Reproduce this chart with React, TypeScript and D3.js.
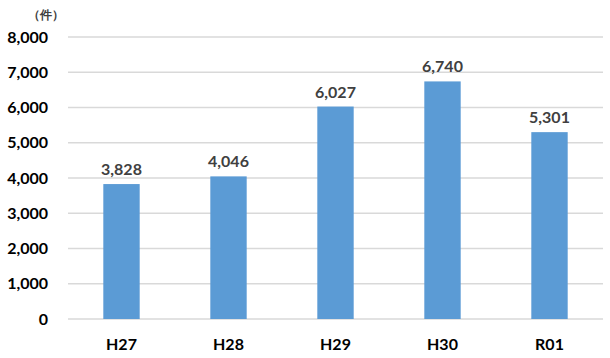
import React from "react";
import * as d3 from "d3";

const categories = ["H27", "H28", "H29", "H30", "R01"];
const values = [3828, 4046, 6027, 6740, 5301];
const yTicks = [0, 1000, 2000, 3000, 4000, 5000, 6000, 7000, 8000];
const unitLabel = "（件）";

export default function App() {
  const W = 610, H = 358;
  const left = 68, right = 603, top = 37, bottom = 319;
  const x = d3.scaleBand<string>().domain(categories).range([left, right]).paddingInner(0.66).paddingOuter(0.33);
  const y = d3.scaleLinear().domain([0, 8000]).range([bottom, top]);
  const fmt = d3.format(",");
  const font = "Lato, 'Open Sans', sans-serif";
  const color = "#404040";
  return (
    <svg width={W} height={H} style={{ position: "absolute", left: 0, top: 0, background: "#fff" }}>
      <text x={46} y={19} textAnchor="middle" fontSize={12} fontWeight="bold" fontFamily={font} fill={color}>{unitLabel}</text>
      {yTicks.map((t) => (
        <g key={t}>
          <line x1={left} x2={right} y1={y(t)} y2={y(t)} stroke="#d9d9d9" strokeWidth={1.3} />
          <text x={48} y={y(t) + 5.5} textAnchor="end" fontSize={16} fontWeight="bold" fontFamily={font} fill="#000">{fmt(t)}</text>
        </g>
      ))}
      {categories.map((c, i) => (
        <g key={c}>
          <rect x={x(c)} y={y(values[i])} width={x.bandwidth()} height={bottom - y(values[i])} fill="#5b9bd5" />
          <text x={x(c)! + x.bandwidth() / 2} y={y(values[i]) - 9} textAnchor="middle" fontSize={16} fontWeight="bold" fontFamily={font} fill={color}>{fmt(values[i])}</text>
          <text x={x(c)! + x.bandwidth() / 2} y={350} textAnchor="middle" fontSize={16} fontWeight="bold" fontFamily={font} fill="#000">{c}</text>
        </g>
      ))}
    </svg>
  );
}
